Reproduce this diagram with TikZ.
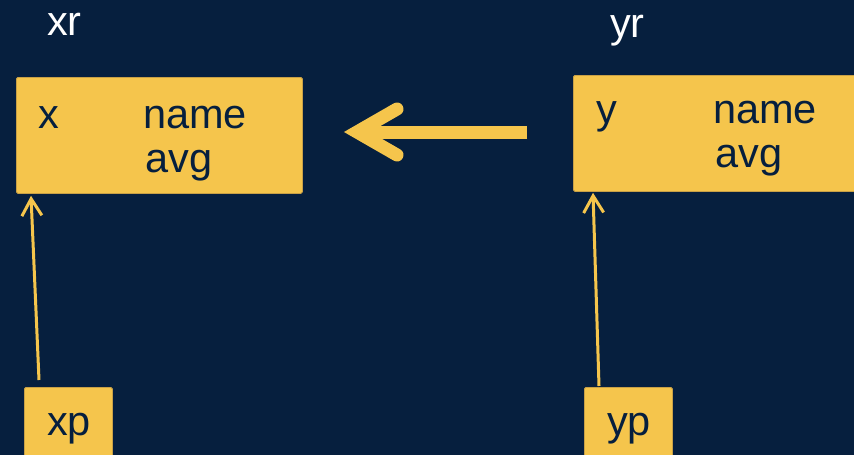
\documentclass[tikz,border=0pt]{standalone}
\usepackage{fontspec}
\setmainfont{Liberation Sans}
\usetikzlibrary{arrows.meta,calc}
\definecolor{navy}{RGB}{6,31,62}
\definecolor{gold}{RGB}{245,197,76}
\definecolor{goldedge}{RGB}{200,160,70}
\begin{document}
\begin{tikzpicture}[x=1pt,y=-1pt,
  box/.style={fill=gold,draw=goldedge,line width=0.8pt,rounded corners=1.5pt,
              anchor=north west,inner sep=0pt},
  word/.style={anchor=base west,inner sep=0pt,
               font=\fontsize{41.5}{50}\selectfont},
  dark/.style={word,text=navy},
  light/.style={word,text=white},
  pointer/.style={draw=gold,line width=3pt,
                  -{Straight Barb[length=17pt,width=20pt]}}]
  % background and frame
  \fill[navy] (0,0) rectangle (854,455);
  \useasboundingbox (0,0) rectangle (854,455);

  % record boxes
  \node[box,minimum width=286pt,minimum height=116pt] (xbox) at (16,77) {};
  \node[box,minimum width=300pt,minimum height=116pt] (ybox) at (573,75) {};
  \node[box,minimum width=88pt,minimum height=90pt] (xp) at (24,387) {};
  \node[box,minimum width=88pt,minimum height=90pt] (yp) at (584,387) {};

  % labels
  \node[light] (xrlab) at (47,35) {xr};
  \node[light] (yrlab) at (610,37) {yr};
  \node[dark] (xlab) at (38,128) {x};
  \node[dark] (xname) at (143,128) {name};
  \node[dark] (xavg) at (145,172) {avg};
  \node[dark] (ylab) at (596,123) {y};
  \node[dark] (yname) at (713,123) {name};
  \node[dark] (yavg) at (715,167) {avg};
  \node[dark] (xplab) at (47,435) {xp};
  \node[dark] (yplab) at (607,435) {yp};

  % pointers from xp and yp
  \draw[pointer] ($(xp.north west)+(15,-7)$) -- ($(xbox.south west)+(15,2)$);
  \draw[pointer] ($(yp.north west)+(15,-1)$) -- ($(ybox.south west)+(20,1)$);

  % assignment arrow
  \coordinate (ashaft) at (527,132);
  \coordinate (avertex) at (357,132);
  \draw[gold,line width=13pt] (ashaft) -- ($(avertex)+(3,0)$);
  \draw[gold,line width=13pt,line cap=round,line join=miter]
    ($(avertex)+(40,-23)$) -- (avertex) -- ($(avertex)+(40,23)$);
\end{tikzpicture}
\end{document}
